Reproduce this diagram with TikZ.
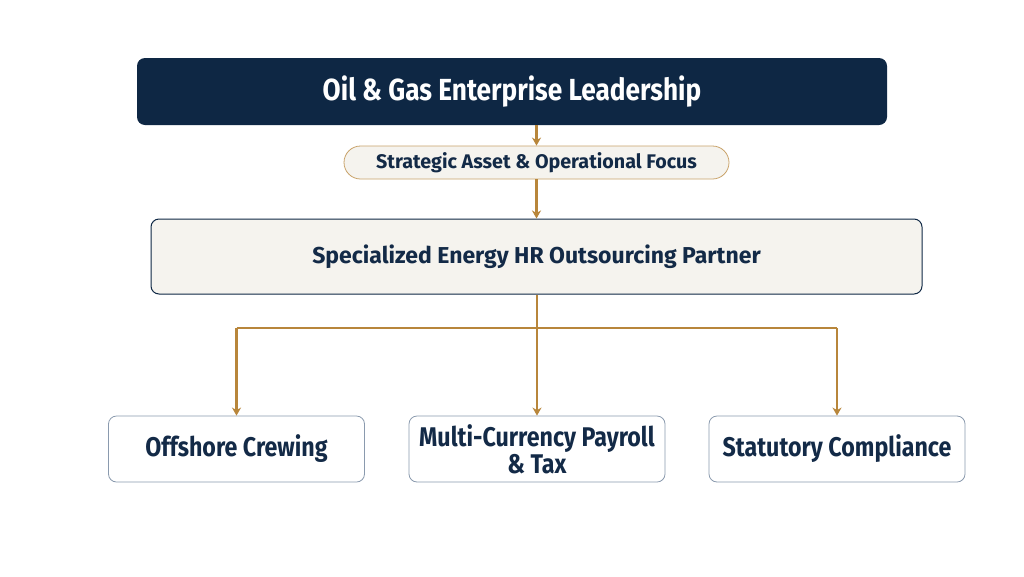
\documentclass[tikz,border=0pt]{standalone}
\usepackage{fontspec}
\setmainfont{Fira Sans}[BoldFont={Fira Sans Bold}]
\newfontfamily\condfont{Fira Sans}[BoldFont={Fira Sans Bold},FakeStretch=0.86]
\usetikzlibrary{arrows.meta}
\definecolor{navy}{HTML}{0E2744}
\definecolor{txt}{HTML}{132A47}
\definecolor{cream}{HTML}{F5F3EE}
\definecolor{gold}{HTML}{B8863B}
\definecolor{tan}{HTML}{C9A36A}
\definecolor{greyb}{HTML}{8A9AAE}
\tikzset{
  conn/.style={draw=gold, line width=2.4pt, -{Stealth[length=8pt,width=9pt,inset=2.5pt]}},
  line/.style={draw=gold, line width=2.4pt},
  leafbox/.style={draw=greyb, line width=0.8pt, fill=white, rounded corners=8pt, minimum width=256pt, minimum height=66pt, inner sep=0pt, align=center, text=txt, font=\condfont\bfseries\fontsize{27}{30}\selectfont},
}
\begin{document}
\begin{tikzpicture}[x=1pt,y=-1pt]
\useasboundingbox[fill=white] (0,0) rectangle (1024,576);
\node[fill=navy, rounded corners=8pt, minimum width=750pt, minimum height=67pt, inner sep=0pt, text=white, font=\condfont\bfseries\fontsize{30.5}{34}\selectfont] (top) at (512,91.5) {Oil \& Gas Enterprise Leadership};
\node[draw=tan, line width=0.8pt, fill=cream, rounded corners=16.5pt, minimum width=385pt, minimum height=33pt, inner sep=0pt, text=txt, font=\bfseries\fontsize{19.7}{22}\selectfont] (focus) at (536.5,162.5) {Strategic Asset \& Operational Focus};
\node[draw=navy, line width=1pt, fill=cream, rounded corners=8pt, minimum width=771pt, minimum height=75pt, inner sep=0pt, text=txt, font=\bfseries\fontsize{23}{26}\selectfont] (hr) at (536.5,256.5) {Specialized Energy HR Outsourcing Partner};
\node[leafbox] (off) at (236.5,449) {Offshore Crewing};
\node[leafbox] (pay) at (537,449) {Multi-Currency Payroll\\[-3pt]\& Tax};
\node[leafbox] (stat) at (837,449) {Statutory Compliance};
\coordinate (split) at (537,328);
\draw[conn] (top.south -| focus.north) -- (focus.north);
\draw[conn] (focus.south) -- (focus.south |- hr.north);
\draw[line] (hr.south -| split) -- (split);
\draw[line] (off.north |- split) -- (stat.north |- split);
\draw[conn] (split) -- (pay.north);
\draw[conn] (off.north |- split) -- (off.north);
\draw[conn] (stat.north |- split) -- (stat.north);
\end{tikzpicture}
\end{document}
